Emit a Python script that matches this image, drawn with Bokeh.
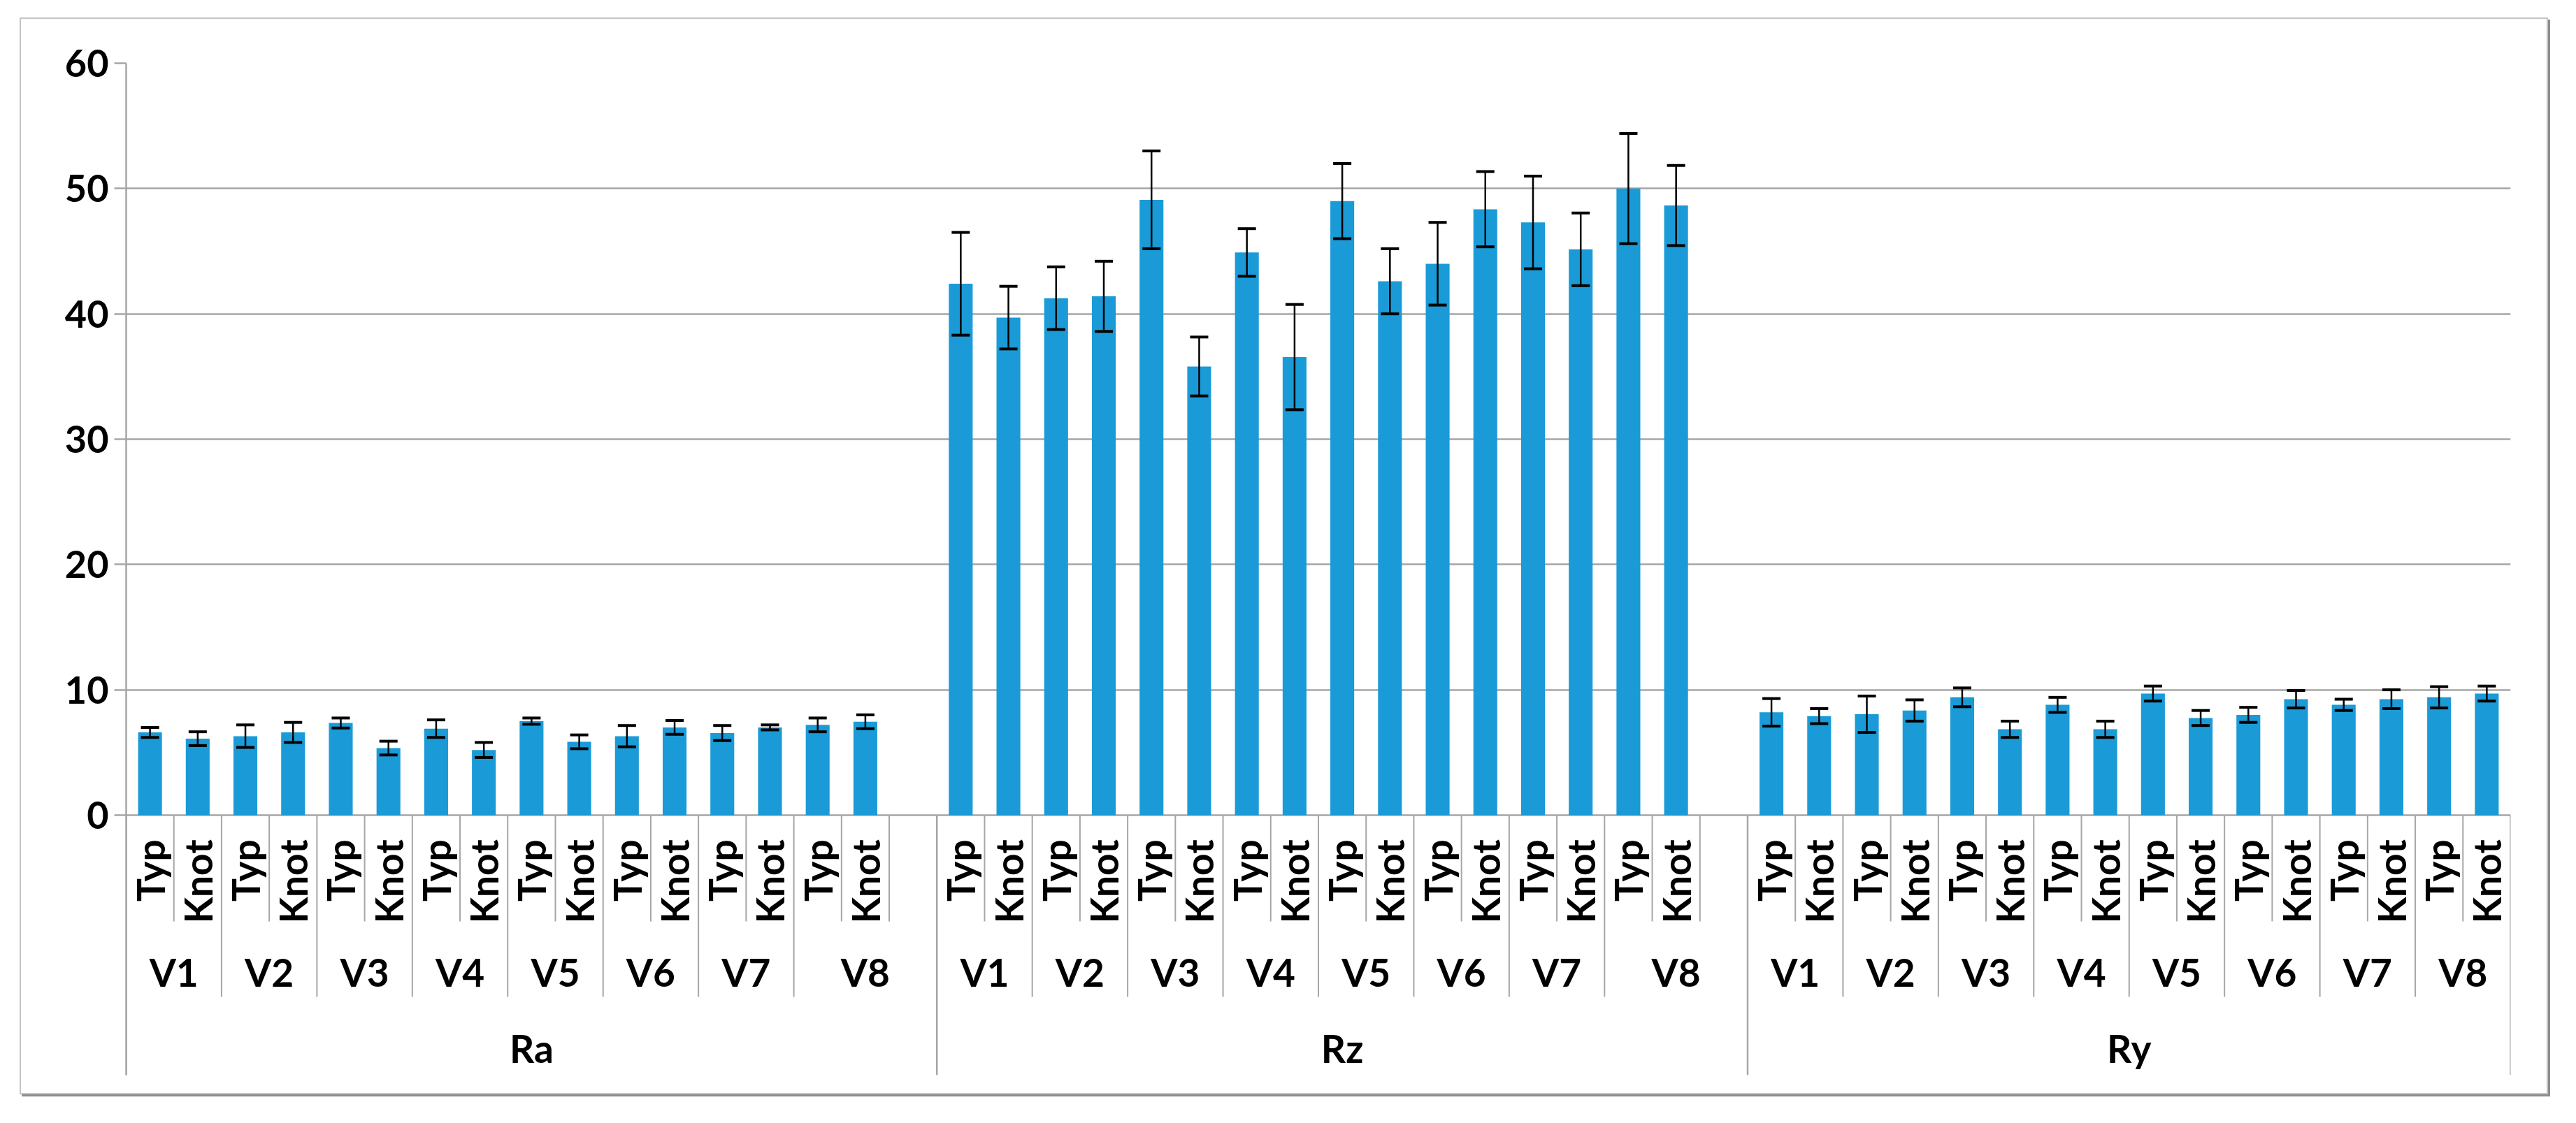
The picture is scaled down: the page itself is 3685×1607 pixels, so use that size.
import math
from bokeh.plotting import figure
from bokeh.models import Range1d, FixedTicker, ColumnDataSource, Whisker, TeeHead
from bokeh.core.properties import value
from bokeh.embed import file_html
from bokeh.resources import INLINE

# ---------------- data ----------------
groups = ["Ra", "Rz", "Ry"]
variants = ["V1", "V2", "V3", "V4", "V5", "V6", "V7", "V8"]
types = ["Typ", "Knot"]
# the original chart has one empty category after V8 in Ra and Rz
group_blank_slot = [True, True, False]

y_ticks = [0, 10, 20, 30, 40, 50, 60]

ra_mean = [6.6, 6.1, 6.3, 6.6, 7.35, 5.35, 6.9, 5.2, 7.5, 5.85, 6.3, 7.0, 6.55, 7.0, 7.2, 7.45]
ra_err = [0.4, 0.55, 0.9, 0.8, 0.4, 0.55, 0.7, 0.6, 0.25, 0.55, 0.85, 0.55, 0.6, 0.2, 0.55, 0.55]

rz_mean = [42.4, 39.7, 41.25, 41.4, 49.1, 35.8, 44.9, 36.55, 49.0, 42.6, 44.0, 48.35, 47.3, 45.15, 50.0, 48.65]
rz_err = [4.1, 2.5, 2.5, 2.8, 3.9, 2.35, 1.9, 4.2, 3.0, 2.6, 3.3, 3.0, 3.7, 2.9, 4.4, 3.2]

ry_mean = [8.2, 7.9, 8.05, 8.35, 9.4, 6.85, 8.8, 6.85, 9.7, 7.75, 8.0, 9.25, 8.8, 9.25, 9.4, 9.7]
ry_err = [1.1, 0.6, 1.45, 0.85, 0.75, 0.65, 0.6, 0.65, 0.6, 0.6, 0.6, 0.7, 0.45, 0.75, 0.85, 0.6]

means = [ra_mean, rz_mean, ry_mean]
errs = [ra_err, rz_err, ry_err]

# ---------------- styling ----------------
BAR = "#1A9BD7"
GRID = "#a6a6a6"
FONT = "Lato"

Y_MIN = -20.75        # bottom of the category-label band
Y_TYPE = -1.95        # top end of the rotated Typ/Knot labels
Y_INNER = -8.48       # bottom of the short separators
Y_VAR_SEP = -14.5     # bottom of the V-group separators
Y_VAR = -12.5         # centre of V labels
Y_GRP = -18.6         # centre of Ra/Rz/Ry labels

# ---------------- build slot positions ----------------
bar_x, bar_top, up, lo = [], [], [], []
type_x, type_text = [], []
var_x, var_text = [], []
grp_x, grp_text = [], []
sep_inner, sep_var, sep_grp = [], [], []

slot = 0
for gi, g in enumerate(groups):
    g_start = slot
    sep_grp.append(slot)
    for vi, v in enumerate(variants):
        v_start = slot
        if vi > 0:
            sep_var.append(slot)
        for ti, t in enumerate(types):
            if ti > 0:
                sep_inner.append(slot)
            k = vi * len(types) + ti
            m = means[gi][k]
            e = errs[gi][k]
            bar_x.append(slot + 0.5)
            bar_top.append(m)
            up.append(m + e)
            lo.append(m - e)
            type_x.append(slot + 0.5)
            type_text.append(t)
            slot += 1
        if vi == len(variants) - 1 and group_blank_slot[gi]:
            sep_inner.append(slot)
            slot += 1
        var_x.append((v_start + slot) / 2)
        var_text.append(v)
    grp_x.append((g_start + slot) / 2)
    grp_text.append(g)
sep_grp.append(slot)
n_slots = slot

bars = ColumnDataSource(dict(x=bar_x, top=bar_top, upper=up, lower=lo))

p = figure(
    width=3617, height=1541,
    x_range=Range1d(0, n_slots), y_range=Range1d(Y_MIN, 60),
    output_backend="svg", toolbar_location=None,
    x_axis_location=None,
    min_border_left=150, min_border_right=56, min_border_top=63, min_border_bottom=30,
    margin=(25, 0, 0, 28),
    styles={"border": "2px solid #c4c4c4", "box-shadow": "3px 3px 0 #8c8c8c",
            "box-sizing": "border-box"},
)
p.outline_line_color = None
p.background_fill_color = "white"
p.border_fill_color = "white"
for g in p.xgrid:
    g.grid_line_color = None
    g.visible = False

# y axis
p.yaxis.ticker = FixedTicker(ticks=y_ticks)
p.yaxis.major_label_text_font = FONT
p.yaxis.major_label_text_font_style = "bold"
p.yaxis.major_label_text_font_size = "54px"
p.yaxis.major_label_text_color = "black"
p.yaxis.major_label_standoff = 8
p.yaxis.major_tick_out = 17
p.yaxis.major_tick_in = 0
p.yaxis.minor_tick_out = 0
p.yaxis.minor_tick_in = 0
p.yaxis.axis_line_color = GRID
p.yaxis.axis_line_width = 2.5
p.yaxis.major_tick_line_color = GRID
p.yaxis.major_tick_line_width = 2.5
p.ygrid.grid_line_color = GRID
p.ygrid.grid_line_width = 2.5

# bars
p.vbar(x="x", top="top", bottom=0, width=0.5, source=bars,
       fill_color=BAR, line_color=None)

# error bars (drawn above the bars)
p.add_layout(Whisker(
    source=bars, base="x", upper="upper", lower="lower", level="annotation",
    line_color="black", line_width=2.5,
    upper_head=TeeHead(size=26, line_color="black", line_width=4),
    lower_head=TeeHead(size=26, line_color="black", line_width=4),
))

# category separators
p.segment(x0=sep_inner, y0=[0] * len(sep_inner), x1=sep_inner, y1=[Y_INNER] * len(sep_inner),
          line_color=GRID, line_width=2)
p.segment(x0=sep_var, y0=[0] * len(sep_var), x1=sep_var, y1=[Y_VAR_SEP] * len(sep_var),
          line_color=GRID, line_width=2)
p.segment(x0=sep_grp, y0=[0] * len(sep_grp), x1=sep_grp, y1=[Y_MIN] * len(sep_grp),
          line_color=GRID, line_width=2.5)

# category labels
p.text(x=type_x, y=[Y_TYPE] * len(type_x), text=type_text, angle=math.pi / 2,
       text_align="right", text_baseline="middle",
       text_font=value(FONT), text_font_style="bold", text_font_size="55px",
       text_color="black")
p.text(x=var_x, y=[Y_VAR] * len(var_x), text=var_text,
       text_align="center", text_baseline="middle",
       text_font=value(FONT), text_font_style="bold", text_font_size="55px",
       text_color="black")
p.text(x=grp_x, y=[Y_GRP] * len(grp_x), text=grp_text,
       text_align="center", text_baseline="middle",
       text_font=value(FONT), text_font_style="bold", text_font_size="55px",
       text_color="black")

open("out.html", "w").write(file_html(p, INLINE))
